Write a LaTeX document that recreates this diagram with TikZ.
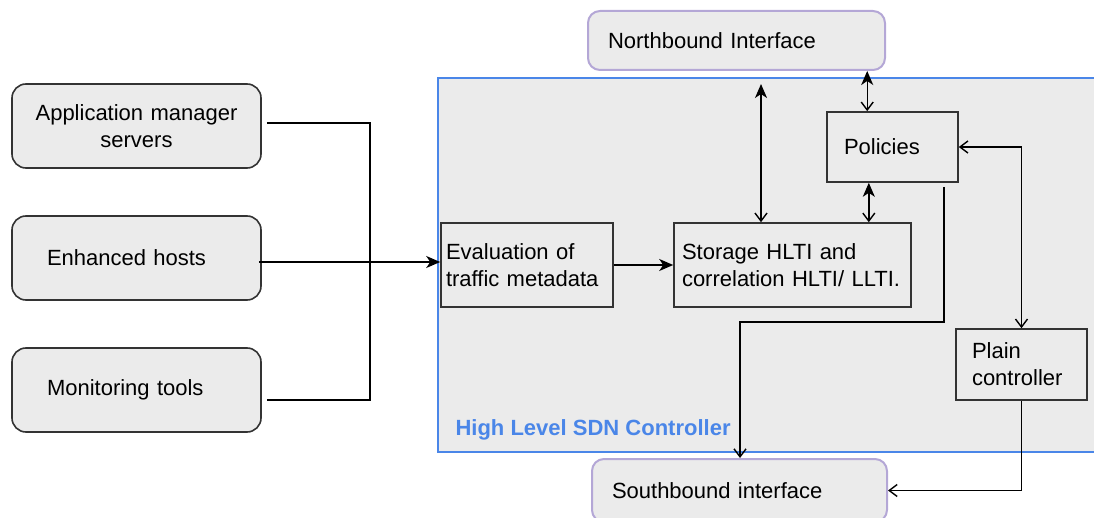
\documentclass[tikz,border=0pt]{standalone}
\usepackage{fontspec}
\setmainfont{Liberation Sans}
\usetikzlibrary{arrows.meta,calc}
\definecolor{panel}{HTML}{EBEBEB}
\definecolor{edge}{HTML}{333333}
\definecolor{ctrlblue}{HTML}{4A86E8}
\definecolor{lilac}{HTML}{B4A7D6}
\tikzset{
  txt/.style={font=\fontsize{22}{27}\selectfont, text=black},
  srcbox/.style={txt, draw=edge, line width=1.6pt, fill=panel, rounded corners=14pt,
    minimum height=84pt, inner ysep=0pt},
  ifbox/.style={txt, draw=lilac, line width=2pt, fill=panel, rounded corners=12pt,
    inner ysep=0pt},
  stepbox/.style={txt, draw=edge, line width=1.6pt, fill=panel, inner ysep=0pt},
  container/.style={draw=ctrlblue, line width=2pt, fill=panel, inner sep=0pt},
  link/.style={draw=black, line width=1.4pt},
  fillarrow/.tip={Stealth[length=14pt,width=12pt,inset=4pt]},
  openarrow/.tip={Straight Barb[length=8pt,width=12pt]},
}
\begin{document}
\begin{tikzpicture}[x=1pt,y=-1pt]
  \useasboundingbox (0,0) rectangle (1094,518);
  \clip (0,0) rectangle (1094,518);

  % controller panel
  \node[container, minimum width=662pt, minimum height=374pt] (hl) at (769,265) {};
  \node[anchor=west, text=ctrlblue, font=\fontsize{22}{26}\selectfont\bfseries] (hlabel)
    at (452,430) {High Level SDN Controller};

  % interfaces
  \node[ifbox, minimum height=59pt, text width=257pt, inner xsep=20pt, align=left] (nb)
    at (736.5,40.5) {Northbound Interface};
  \node[ifbox, minimum height=63pt, text width=255pt, inner xsep=20pt, align=left] (sb)
    at (739.5,490.5) {Southbound interface};

  % sources
  \node[srcbox, text width=229pt, inner xsep=10pt, align=center] (app) at (136.5,126)
    {Application manager\\servers};
  \node[srcbox, text width=179pt, inner xsep=35pt, align=left] (enh) at (136.5,258)
    {Enhanced hosts};
  \node[srcbox, text width=179pt, inner xsep=35pt, align=left] (mon) at (136.5,390)
    {Monitoring tools};

  % controller blocks
  \node[stepbox, minimum height=84pt, text width=162pt, inner xsep=5pt, align=left] (ev)
    at (527,265) {Evaluation of\\traffic metadata};
  \node[stepbox, minimum height=84pt, minimum width=237pt, text width=221pt, inner xsep=0pt, align=left] (st)
    at (792.5,265) {Storage HLTI and\\correlation HLTI/ LLTI.};
  \node[stepbox, minimum height=70pt, text width=97pt, inner xsep=17pt, align=left] (pol)
    at (892.5,147) {Policies};
  \node[stepbox, minimum height=71pt, text width=99pt, inner xsep=16pt, align=left] (pl)
    at (1021.5,364.5) {Plain\\controller};

  % sources into the evaluation block
  \coordinate (busT) at (370,123);
  \coordinate (busB) at (370,400);
  \draw[link] ($(app.east)+(5,-3)$) -- (busT) -- (busB) -- ($(mon.east)+(5,10)$);
  \draw[link,-fillarrow] ($(enh.east)+(-3,4)$) coordinate (e1) -- (e1 -| ev.west);

  % evaluation to storage
  \draw[link,-fillarrow] (ev.east) -- (st.west);

  % storage up to the northbound side
  \coordinate (nTip) at (761,84);
  \draw[link,openarrow-fillarrow] (nTip |- st.north) -- (nTip);

  % policies links
  \draw[link,openarrow-fillarrow] ($(pol.north west)+(41,0)$) coordinate (p1) -- (p1 |- nb.south);
  \draw[link,openarrow-fillarrow] ($(st.north east)+(-43,0)$) coordinate (p2) -- (p2 |- pol.south);
  \draw[link,openarrow-openarrow] (pol.east) -| (pl.north);

  % policies down to the southbound interface
  \coordinate (drop) at (740,322);
  \draw[link,-openarrow] ($(pol.south east)+(-15,4)$) |- (drop) -- (drop |- sb.north);

  % plain controller to the southbound interface
  \draw[link,-openarrow] (pl.south) |- (sb.east);
\end{tikzpicture}
\end{document}
